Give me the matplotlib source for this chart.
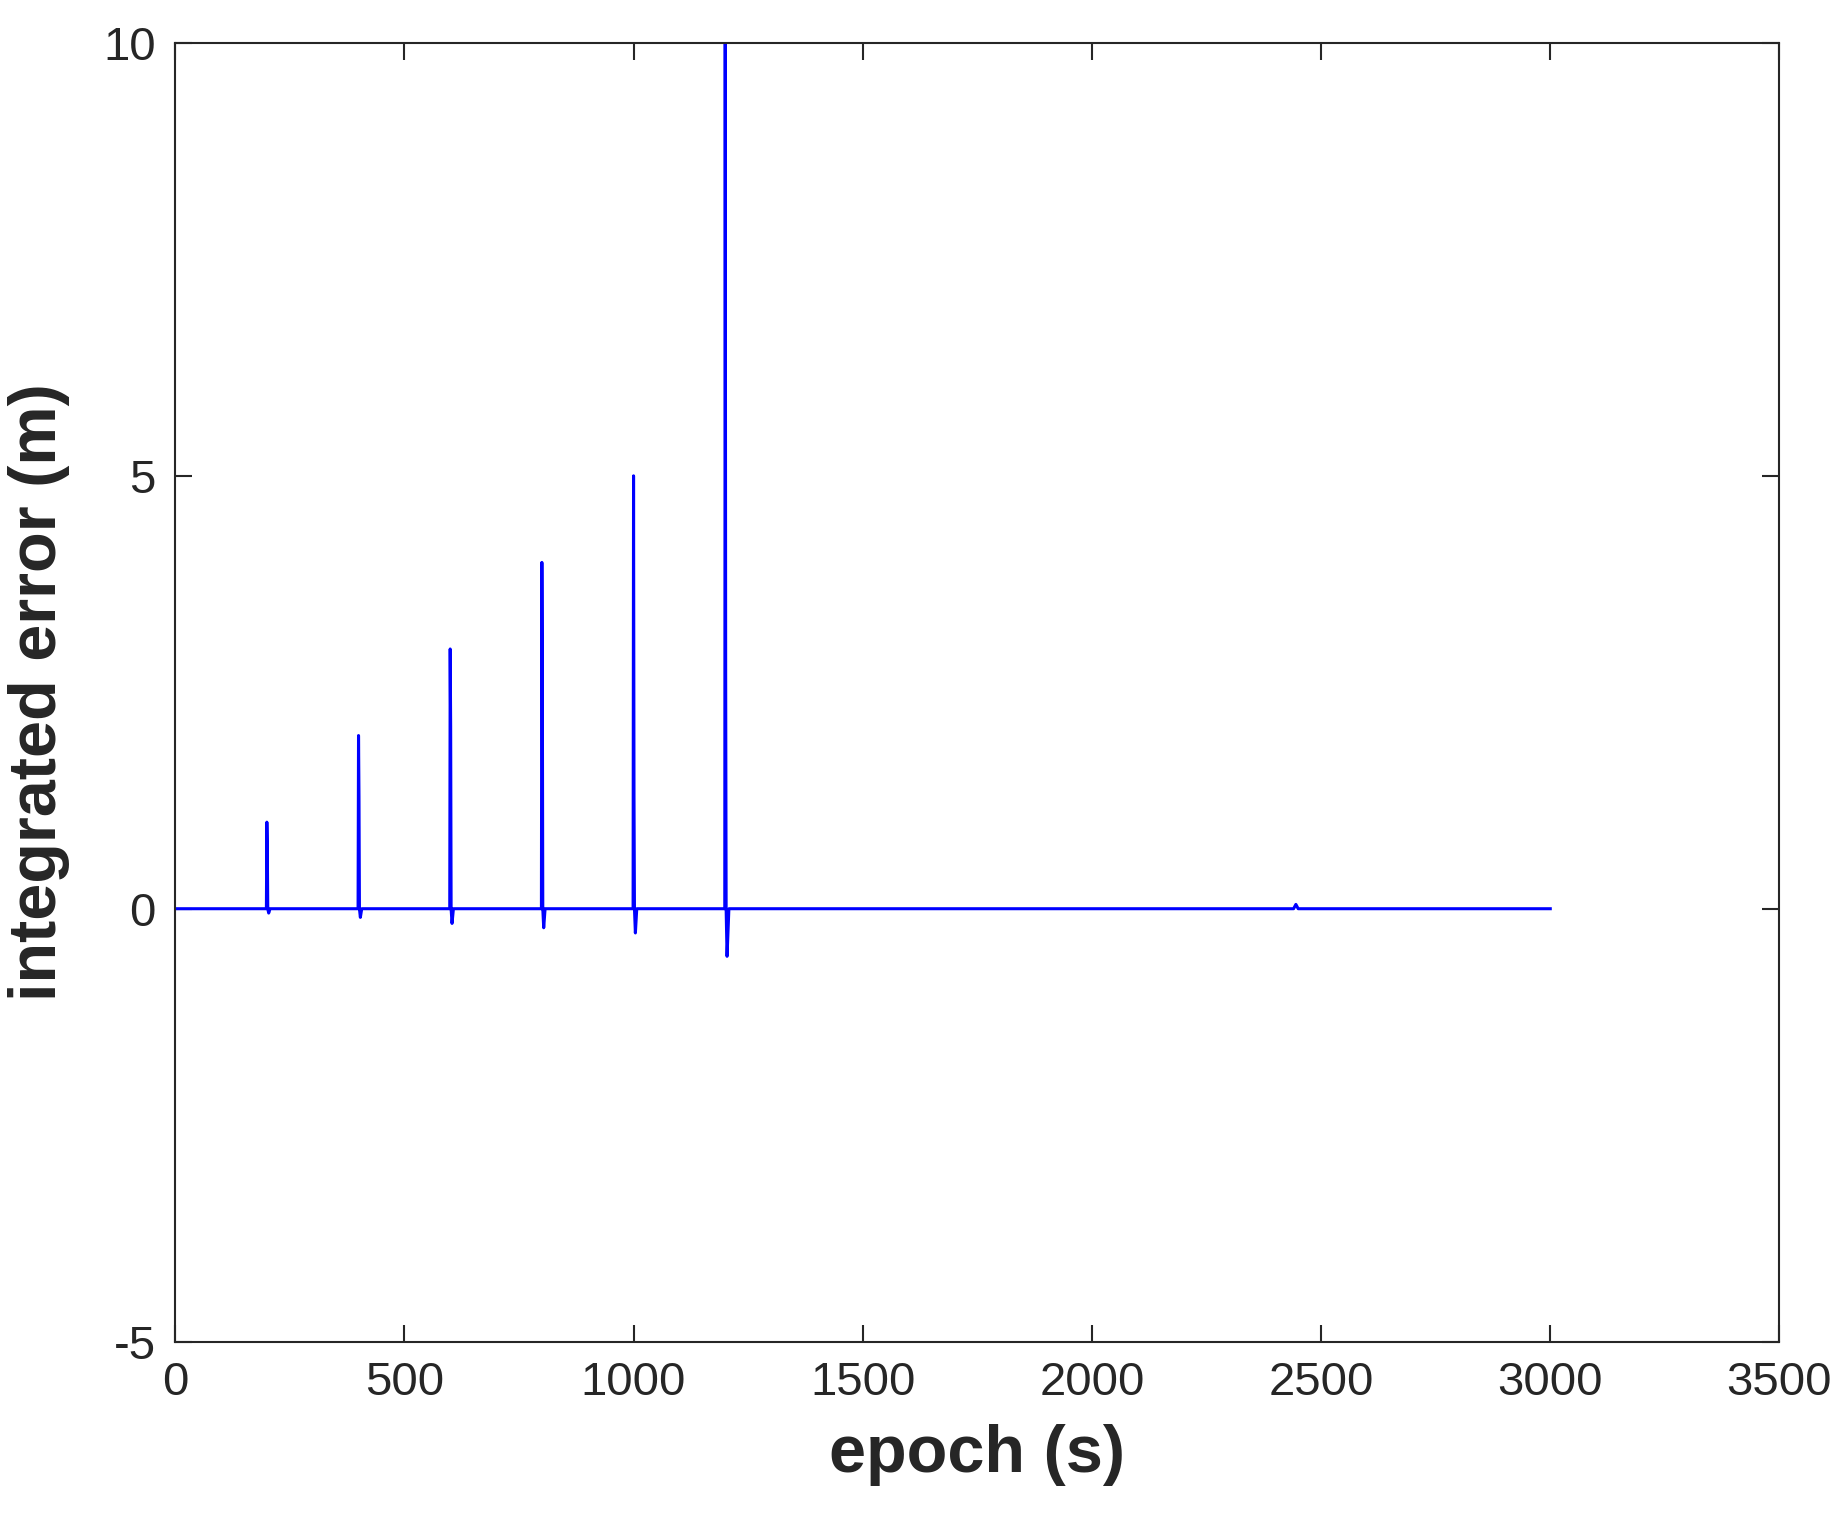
import matplotlib.pyplot as plt

# breakpoints (epoch in s, integrated error in m)
epoch = [0, 150, 199, 200, 201, 202, 204, 207, 399, 400, 401, 402, 404, 407,
         599, 600, 601, 602, 604, 607, 799, 800, 801, 802, 804, 807,
         999, 1000, 1001, 1002, 1004, 1007, 1199, 1200, 1201, 1202, 1204, 1208,
         1800, 2200, 2440, 2445, 2450, 2700, 3000]
error = [0.0, 0.0, 0.0, 1.0, 0.7, 0.0, -0.05, 0.0, 0.0, 2.0, 1.3, 0.0, -0.1, 0.0,
         0.0, 3.0, 2.1, 0.0, -0.17, 0.0, 0.0, 4.0, 2.7, 0.0, -0.22, 0.0,
         0.0, 5.0, 1.3, 0.0, -0.28, 0.0, 0.0, 10.0, 2.7, 0.0, -0.55, 0.0,
         0.0, 0.0, 0.0, 0.05, 0.0, 0.0, 0.0]

plt.rcParams['font.family'] = ['Arial', 'Liberation Sans', 'DejaVu Sans']
plt.rcParams['axes.unicode_minus'] = False
fig = plt.figure(figsize=(18.44, 15.35), dpi=100)
ax = fig.add_axes([0.095, 0.126, 0.87, 0.846])

ax.plot(epoch, error, color='#0000ff', linewidth=2.2)
ax.set_xlim(0, 3500)
ax.set_ylim(-5, 10)
ax.set_xticks(range(0, 3501, 500))
ax.set_yticks([-5, 0, 5, 10])
ax.tick_params(labelsize=34, direction='in', length=12, width=1.5,
               top=True, right=True, colors='#262626', pad=14)
for s in ax.spines.values():
    s.set_linewidth(1.5)
    s.set_color('#262626')
ax.set_xlabel('epoch (s)', fontsize=48, fontweight='bold', color='#262626', labelpad=14)
ax.set_ylabel('integrated error (m)', fontsize=48, fontweight='bold', color='#262626', labelpad=24)

fig.savefig('out.png')
